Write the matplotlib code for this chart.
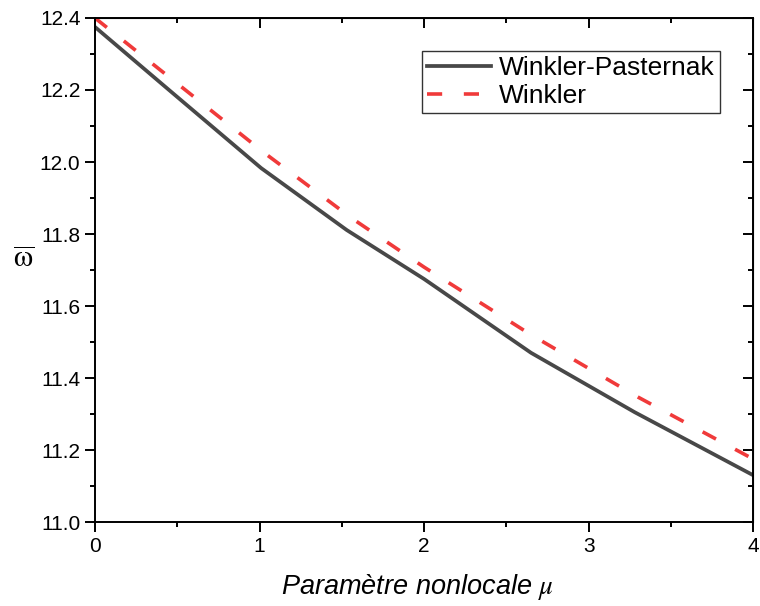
import matplotlib
matplotlib.use("Agg")
import matplotlib.pyplot as plt
from matplotlib.ticker import MultipleLocator, FormatStrFormatter

plt.rcParams['font.family'] = ['Liberation Sans', 'DejaVu Sans']

# valeurs
mu_wp = [0.0, 0.45, 1.01, 1.53, 2.0, 2.65, 3.28, 4.0]
omega_wp = [12.375, 12.20, 11.983, 11.811, 11.675, 11.47, 11.305, 11.13]

mu_w = [0.0, 1.03, 1.56, 2.0, 2.65, 3.3, 4.0]
omega_w = [12.40, 12.025, 11.844, 11.708, 11.52, 11.347, 11.175]

fig = plt.figure(figsize=(7.6, 6.06), dpi=100)
ax = fig.add_axes([0.125, 0.1386, 0.866, 0.8317])

ax.plot(mu_wp, omega_wp, color='#484848', lw=2.7, label='Winkler-Pasternak')
ax.plot(mu_w, omega_w, color='#f03a3a', lw=2.6, ls=(0, (4.2, 6.0)), label='Winkler')

ax.set_xlim(0, 4)
ax.set_ylim(11.0, 12.4)
ax.xaxis.set_major_locator(MultipleLocator(1))
ax.xaxis.set_minor_locator(MultipleLocator(0.5))
ax.yaxis.set_major_locator(MultipleLocator(0.2))
ax.yaxis.set_minor_locator(MultipleLocator(0.1))
ax.yaxis.set_major_formatter(FormatStrFormatter('%.1f'))

for s in ax.spines.values():
    s.set_linewidth(1.4)
ax.tick_params(which='major', direction='out', length=7, width=1.4, labelsize=15)
ax.tick_params(which='minor', direction='out', length=3.6, width=1.4)

# graduations intérieures en haut et à droite
top = ax.secondary_xaxis('top')
top.xaxis.set_major_locator(MultipleLocator(1))
top.xaxis.set_minor_locator(MultipleLocator(0.5))
top.tick_params(which='major', direction='in', length=7, width=1.4, labeltop=False)
top.tick_params(which='minor', direction='in', length=3.6, width=1.4)
right = ax.secondary_yaxis('right')
right.yaxis.set_major_locator(MultipleLocator(0.2))
right.yaxis.set_minor_locator(MultipleLocator(0.1))
right.tick_params(which='major', direction='in', length=7, width=1.4, labelright=False)
right.tick_params(which='minor', direction='in', length=3.6, width=1.4)

xl = ax.set_xlabel(r'Paramètre nonlocale $\mu$', fontsize=19.5, style='italic')
xl.set_math_fontfamily('stix')
ax.xaxis.set_label_coords(0.49, -0.1)
yl = ax.set_ylabel(r'$\overline{\mathrm{\omega}}$', fontsize=22, rotation=0, va='center', ha='center')
yl.set_math_fontfamily('stix')
ax.yaxis.set_label_coords(-0.108, 0.52)

leg = ax.legend(loc='upper left', bbox_to_anchor=(0.497, 0.935), fontsize=19,
                frameon=True, fancybox=False, handlelength=2.4,
                borderpad=0.2, labelspacing=0.15, handletextpad=0.3, borderaxespad=0)
leg.get_frame().set_edgecolor('black')
leg.get_frame().set_linewidth(1.0)

fig.savefig('out.png', dpi=100)
